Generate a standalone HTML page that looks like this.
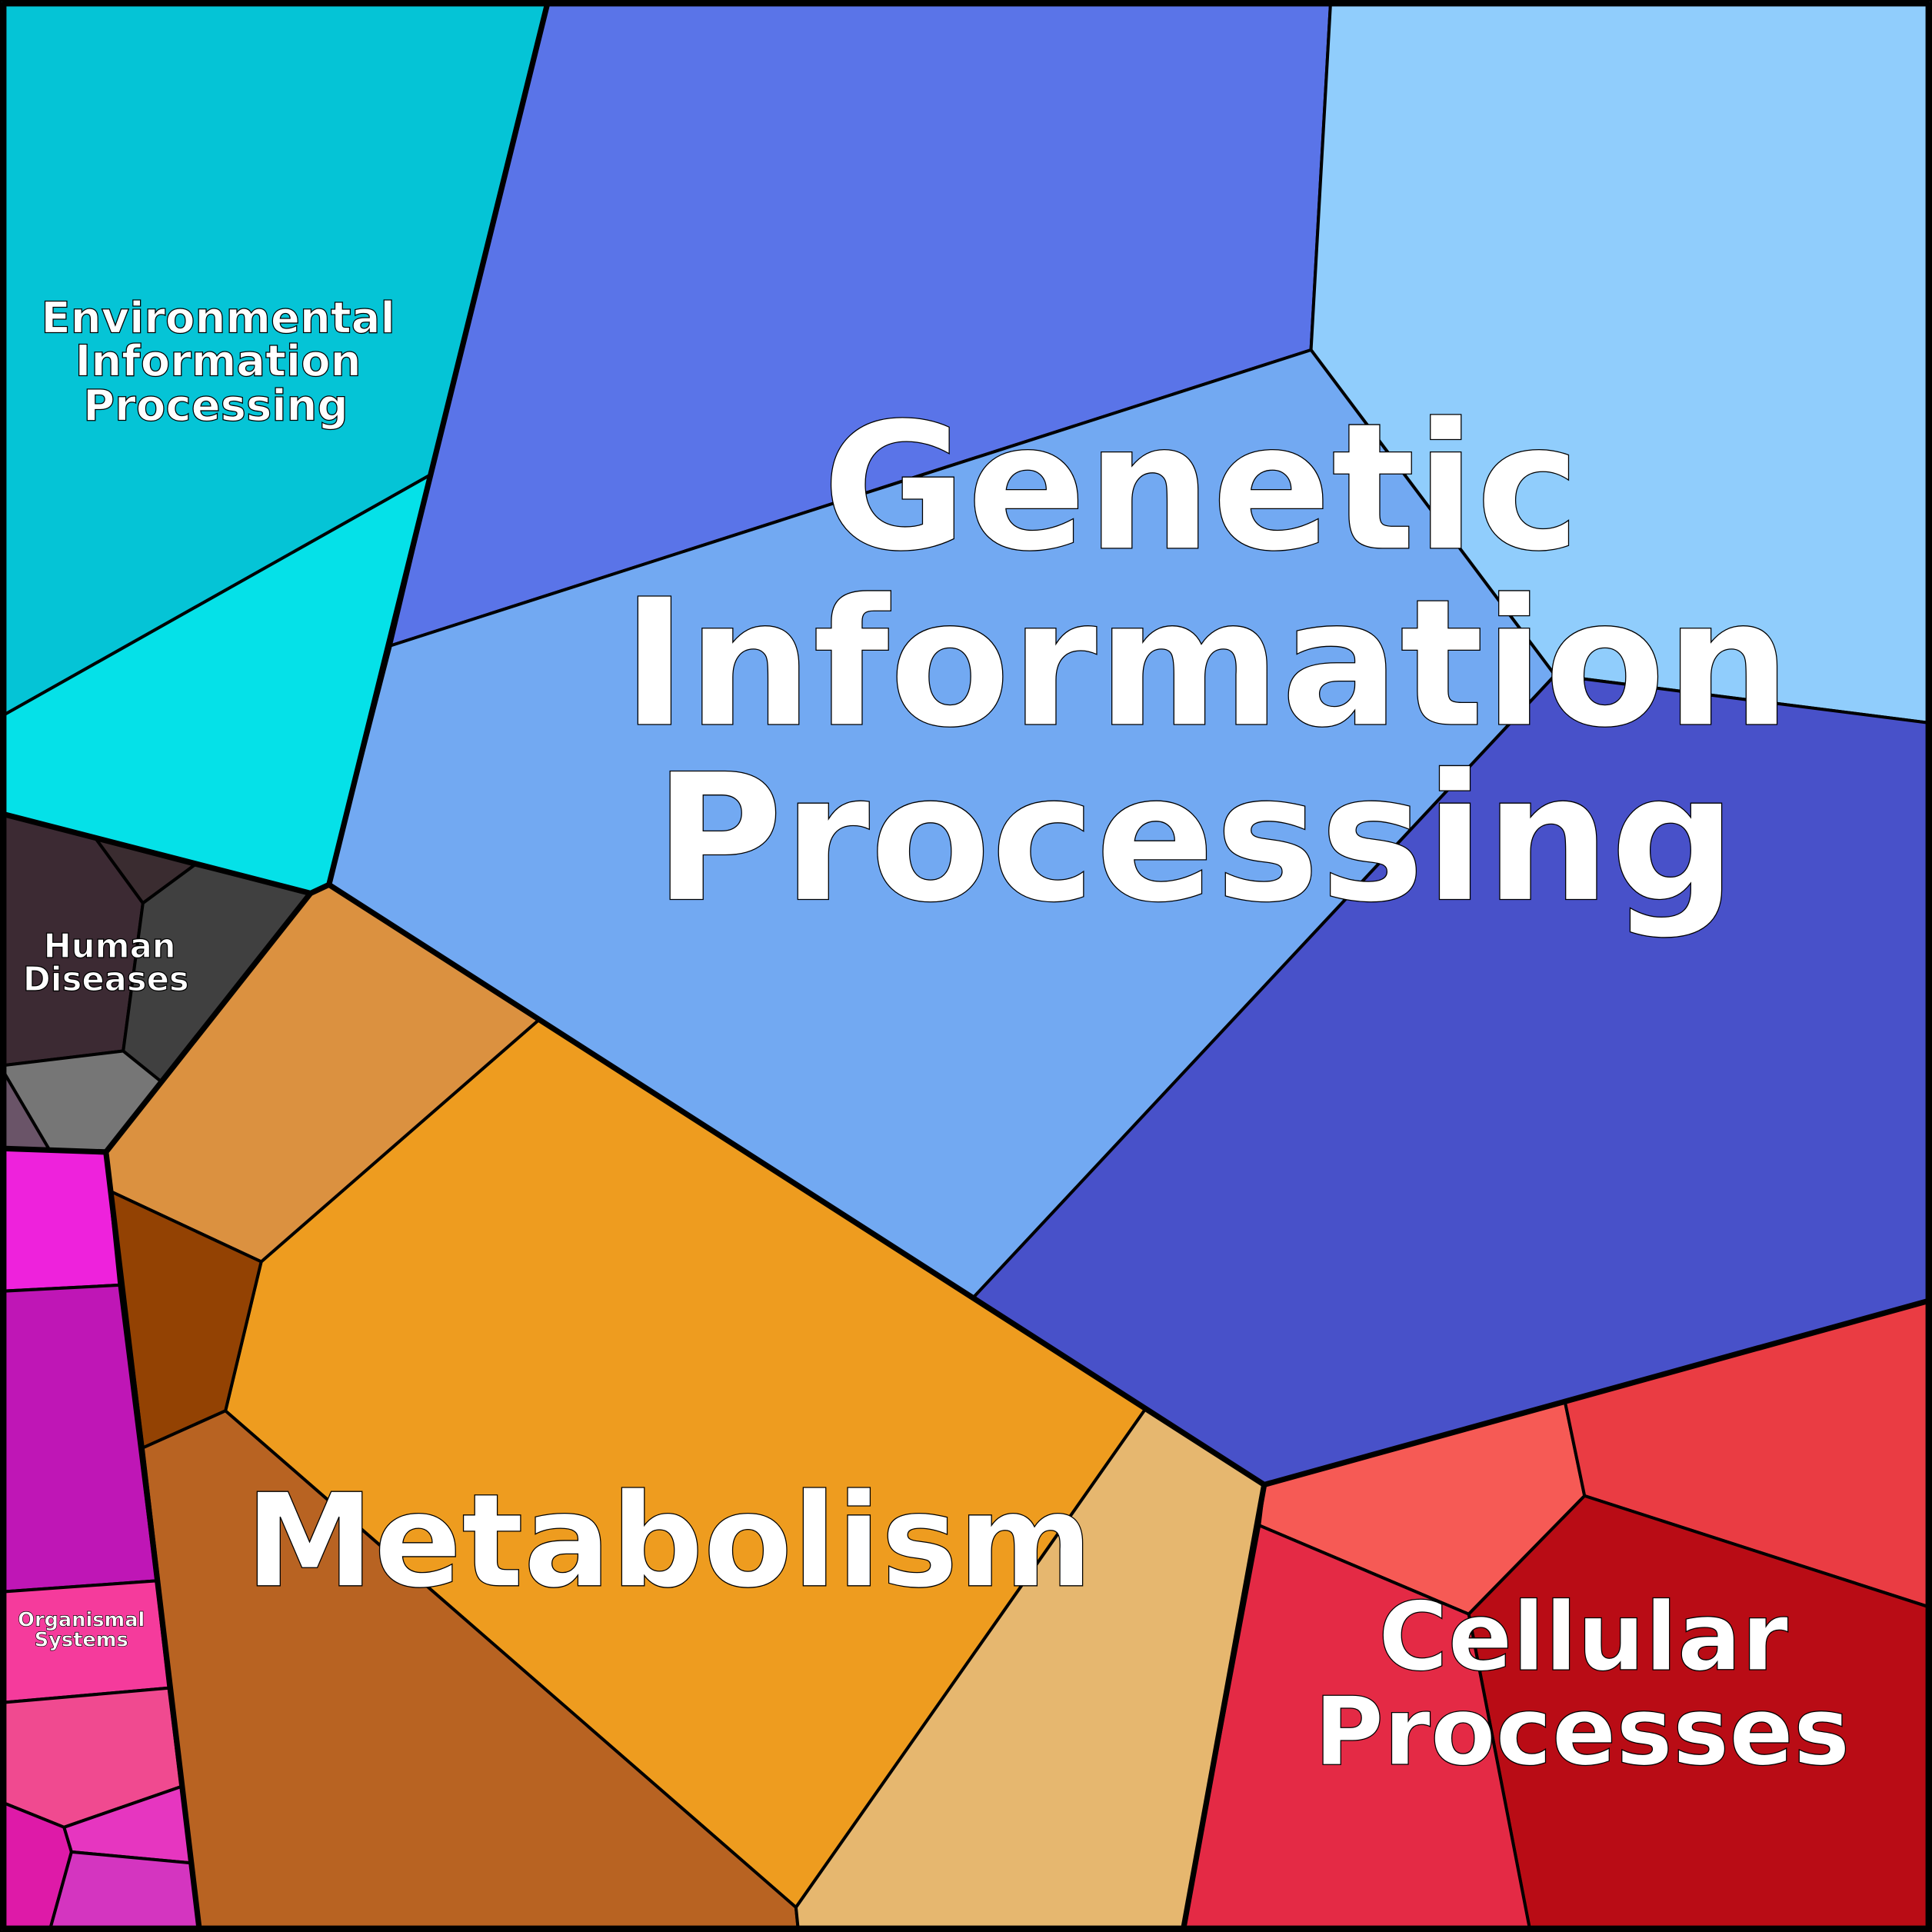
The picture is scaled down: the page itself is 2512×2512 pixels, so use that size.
<!DOCTYPE html>
<html><head><meta charset="utf-8"><style>html,body{margin:0;padding:0;background:#fff}svg{display:block}
text{font-family:"DejaVu Sans","Liberation Sans",sans-serif;font-weight:bold;fill:#fff;stroke:#000;text-anchor:middle}</style></head>
<body>
<svg width="2512" height="2512" viewBox="0 0 1568 1568" xmlns="http://www.w3.org/2000/svg">
<g stroke="#000" stroke-width="2.5" stroke-linejoin="round">
<polygon fill="#05c4d6" points="0,0 445,0 350,385 0,582"/>
<polygon fill="#05e1e8" points="0,582 350,385 267,718 252,725 0,660"/>
<polygon fill="#5a74e8" points="445,0 1080,0 1064,284 317,524 350,385"/>
<polygon fill="#90cdfc" points="1080,0 1568,0 1568,587 1262,548 1064,284"/>
<polygon fill="#72a9f2" points="317,524 1064,284 1262,548 790,1053 267,718"/>
<polygon fill="#4851c9" points="1262,548 1568,587 1568,1055 1026,1205 930,1143 790,1053"/>
<polygon fill="#ee9c1f" points="437,828 930,1143 646,1548 183,1145 212,1024"/>
<polygon fill="#db9140" points="267,718 437,828 212,1024 90,967 86,935 252,725"/>
<polygon fill="#934203" points="90,967 212,1024 183,1145 116,1175"/>
<polygon fill="#b86322" points="116,1175 183,1145 646,1548 648,1568 162,1568"/>
<polygon fill="#e6b76f" points="930,1143 1026,1205 960,1568 648,1568 646,1548"/>
<polygon fill="#f65a55" points="1026,1205 1270,1137 1286,1214 1192,1310 1022,1238"/>
<polygon fill="#ea3c43" points="1270,1137 1568,1055 1568,1305 1286,1214"/>
<polygon fill="#b90c15" points="1286,1214 1568,1305 1568,1568 1242,1568 1192,1310"/>
<polygon fill="#e42a45" points="1022,1238 1192,1310 1242,1568 960,1568"/>
<polygon fill="#3c2a33" points="0,660 78,681 116,733 100,853 0,865"/>
<polygon fill="#3a2c30" points="78,681 158,702 116,733"/>
<polygon fill="#404040" points="158,702 252,725 131,878 100,853 116,733"/>
<polygon fill="#767676" points="0,865 100,853 131,878 86,935 40,933"/>
<polygon fill="#6a5468" points="0,865 40,933 0,932"/>
<polygon fill="#ee22dc" points="0,932 86,935 97,1043 0,1048"/>
<polygon fill="#bf16b6" points="0,1048 97,1043 127,1283 0,1292"/>
<polygon fill="#f53b9c" points="0,1292 127,1283 137,1370 0,1382"/>
<polygon fill="#f04a90" points="0,1382 137,1370 147,1450 52,1483 0,1462"/>
<polygon fill="#de1aa8" points="0,1462 52,1483 58,1503 40,1568 0,1568"/>
<polygon fill="#e636c0" points="52,1483 147,1450 155,1512 58,1503"/>
<polygon fill="#d435c0" points="58,1503 155,1512 162,1568 40,1568"/>
</g>
<g stroke="#000" stroke-width="4.5" fill="none" stroke-linejoin="round">
<polyline points="445,0 267,718 1026,1205 1568,1055"/>
<polyline points="1026,1205 960,1568"/>
<polyline points="0,660 252,725 267,718"/>
<polyline points="252,725 86,935 162,1568"/>
<polyline points="0,932 86,935"/>
<rect x="3" y="3" width="1562" height="1562"/>
</g>
<g stroke-width="0.8">
<text font-size="143" x="975" y="445">Genetic</text>
<text font-size="143" x="979" y="588">Information</text>
<text font-size="143" x="970" y="730">Processing</text>
<text font-size="105" x="543" y="1287">Metabolism</text>
<text font-size="77" x="1285" y="1355">Cellular</text>
<text font-size="77" x="1284" y="1432">Processes</text>
<text font-size="35" x="177" y="270">Environmental</text>
<text font-size="35" x="177" y="305">Information</text>
<text font-size="35" x="175" y="341">Processing</text>
<text font-size="27" x="89" y="777">Human</text>
<text font-size="27" x="86" y="804">Diseases</text>
<text font-size="16" x="66" y="1320" stroke-width="0.4">Organismal</text>
<text font-size="16" x="66" y="1336" stroke-width="0.4">Systems</text>
</g>
</svg>
</body></html>
